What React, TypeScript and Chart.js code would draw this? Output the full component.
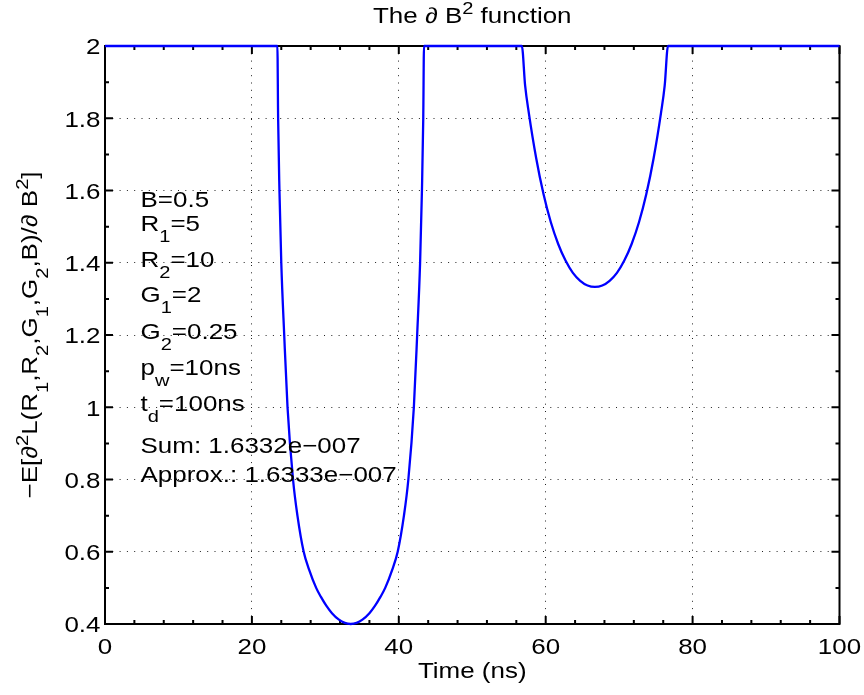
import React, { useEffect, useRef } from "react";
import { Chart, registerables } from "chart.js";

Chart.register(...registerables);

// ---- data ----
const timeNs = [
  0,
  23.47, 23.57, 23.75, 24.0, 24.4, 24.85, 25.6, 26.2, 27.05, 27.8, 28.75, 29.4, 30.15, 30.9, 31.85, 32.65, 33.45,
  34.25, 35.05, 36.0, 36.75, 37.5, 38.15, 39.1, 39.85, 40.7, 41.3, 42.05, 42.5, 42.9, 43.15, 43.33, 43.43,
  56.75, 57.2, 57.7, 58.7, 59.7, 60.7, 61.7, 62.7, 63.7, 64.7, 65.7, 66.7,
  67.7, 68.7, 69.7, 70.7, 71.7, 72.7, 73.7, 74.7, 75.7, 76.2, 76.65,
  100,
];
const fisherInfo = [
  2,
  2, 1.8, 1.6, 1.4, 1.2, 1.0, 0.8, 0.7, 0.6, 0.55, 0.5, 0.475, 0.45, 0.43, 0.412, 0.403, 0.4,
  0.403, 0.412, 0.43, 0.45, 0.475, 0.5, 0.55, 0.6, 0.7, 0.8, 1.0, 1.2, 1.4, 1.6, 1.8, 2,
  2, 1.89, 1.815, 1.69, 1.59, 1.512, 1.452, 1.406, 1.372, 1.35, 1.337, 1.333,
  1.337, 1.35, 1.372, 1.406, 1.452, 1.512, 1.59, 1.69, 1.815, 1.89, 2,
  2,
];
const xMin = 0;
const xMax = 100;
const xStep = 20;
const xMinorStep = 4;
const yMin = 0.4;
const yMax = 2;
const yStep = 0.2;
const yMinorStep = 0.1;

type Seg = { t: string; k?: "sub" | "sup" };

const titleSegs: Seg[] = [{ t: "The \u2202 B" }, { t: "2", k: "sup" }, { t: " function" }];
const xLabelSegs: Seg[] = [{ t: "Time (ns)" }];
const yLabelSegs: Seg[] = [
  { t: "\u2212E[\u2202" }, { t: "2", k: "sup" }, { t: "L(R" }, { t: "1", k: "sub" }, { t: ",R" }, { t: "2", k: "sub" },
  { t: ",G" }, { t: "1", k: "sub" }, { t: ",G" }, { t: "2", k: "sub" }, { t: ",B)/\u2202 B" }, { t: "2", k: "sup" }, { t: "]" },
];
const annotationLines: Seg[][] = [
  [{ t: "B=0.5" }],
  [{ t: "R" }, { t: "1", k: "sub" }, { t: "=5" }],
  [{ t: "R" }, { t: "2", k: "sub" }, { t: "=10" }],
  [{ t: "G" }, { t: "1", k: "sub" }, { t: "=2" }],
  [{ t: "G" }, { t: "2", k: "sub" }, { t: "=0.25" }],
  [{ t: "p" }, { t: "w", k: "sub" }, { t: "=10ns" }],
  [{ t: "t" }, { t: "d", k: "sub" }, { t: "=100ns" }],
  [{ t: "Sum: 1.6332e\u2212007" }],
  [{ t: "Approx.: 1.6333e\u2212007" }],
];
const annotationBaselines = [206.7, 230.7, 266.7, 302.3, 339, 375, 411, 452.7, 482.3];

// ---- styling ----
const FONT = '"Liberation Sans", Arial, Helvetica, sans-serif';
const SX = 1.18; // horizontal glyph stretch of the original font
const BASE = 22;
const SMALL = 17;

function fontFor(seg: Seg) {
  return `${seg.k ? SMALL : BASE}px ${FONT}`;
}

function drawRich(ctx: CanvasRenderingContext2D, segs: Seg[], x: number, y: number, align: "left" | "center" | "right") {
  ctx.save();
  ctx.translate(x, y);
  ctx.scale(SX, 1);
  ctx.textBaseline = "alphabetic";
  ctx.textAlign = "left";
  let w = 0;
  for (const s of segs) {
    ctx.font = fontFor(s);
    w += ctx.measureText(s.t).width;
  }
  let cx = align === "left" ? 0 : align === "center" ? -w / 2 : -w;
  for (const s of segs) {
    ctx.font = fontFor(s);
    const dy = s.k === "sub" ? 11 : s.k === "sup" ? -9 : 0;
    ctx.fillText(s.t, cx, dy);
    cx += ctx.measureText(s.t).width;
  }
  ctx.restore();
}

function fmt(v: number) {
  return String(Number(v.toFixed(4)));
}

const matlabAxes = {
  id: "matlabAxes",
  beforeDatasetsDraw(chart: any) {
    const { ctx, chartArea: a, scales } = chart;
    const xs = scales.x;
    const ys = scales.y;
    ctx.save();
    ctx.strokeStyle = "#000";
    ctx.lineWidth = 2;
    ctx.lineCap = "butt";
    ctx.beginPath();
    const nx = Math.round((xMax - xMin) / xMinorStep);
    for (let i = 0; i <= nx; i++) {
      const v = xMin + i * xMinorStep;
      const major = Math.abs(v / xStep - Math.round(v / xStep)) < 1e-6;
      const len = major ? 8 : 4;
      const px = xs.getPixelForValue(v);
      ctx.moveTo(px, a.bottom);
      ctx.lineTo(px, a.bottom - len);
      ctx.moveTo(px, a.top);
      ctx.lineTo(px, a.top + len);
    }
    const ny = Math.round((yMax - yMin) / yMinorStep);
    const per = Math.round(yStep / yMinorStep);
    for (let i = 0; i <= ny; i++) {
      const v = yMin + i * yMinorStep;
      const len = i % per === 0 ? 8 : 4;
      const py = ys.getPixelForValue(v);
      ctx.moveTo(a.left, py);
      ctx.lineTo(a.left + len, py);
      ctx.moveTo(a.right, py);
      ctx.lineTo(a.right - len, py);
    }
    ctx.stroke();
    ctx.strokeRect(a.left, a.top, a.right - a.left, a.bottom - a.top);
    ctx.restore();

    // tick labels from the library's generated ticks
    ctx.save();
    ctx.fillStyle = "#000";
    for (const t of xs.ticks) {
      const px = xs.getPixelForValue(t.value);
      drawRich(ctx, [{ t: fmt(t.value) }], px, 653.5, "center");
    }
    for (const t of ys.ticks) {
      const py = ys.getPixelForValue(t.value);
      drawRich(ctx, [{ t: fmt(t.value) }], a.left - 4.5, py + 8.3, "right");
    }
    ctx.restore();
  },
  afterDatasetsDraw(chart: any) {
    const { ctx, chartArea: a } = chart;
    ctx.save();
    ctx.fillStyle = "#000";
    const cx = (a.left + a.right) / 2;
    drawRich(ctx, titleSegs, cx, 22.5, "center");
    drawRich(ctx, xLabelSegs, cx, 678, "center");
    annotationLines.forEach((segs, i) => drawRich(ctx, segs, 140.5, annotationBaselines[i], "left"));
    ctx.save();
    ctx.translate(37, (a.top + a.bottom) / 2);
    ctx.rotate(-Math.PI / 2);
    drawRich(ctx, yLabelSegs, 0, 0, "center");
    ctx.restore();
    ctx.restore();
  },
};

export default function App() {
  const ref = useRef<HTMLCanvasElement | null>(null);
  useEffect(() => {
    if (!ref.current) return;
    const points = timeNs.map((x, i) => ({ x, y: fisherInfo[i] }));
    const chart = new Chart(ref.current, {
      type: "line",
      data: {
        datasets: [
          {
            data: points,
            borderColor: "#0000ff",
            borderWidth: 2.3,
            pointRadius: 0,
            fill: false,
            cubicInterpolationMode: "monotone",
            borderJoinStyle: "round",
            clip: false,
          } as any,
        ],
      },
      options: {
        animation: false,
        responsive: false,
        devicePixelRatio: 1,
        parsing: false,
        layout: { padding: { left: 0, right: 24.5, top: 46, bottom: 0 } },
        plugins: { legend: { display: false }, title: { display: false }, tooltip: { enabled: false } },
        scales: {
          x: {
            type: "linear",
            min: xMin,
            max: xMax,
            ticks: { stepSize: xStep, display: false },
            grid: { color: "#222", lineWidth: 1, drawTicks: false },
            border: { display: false, dash: [1, 6.3] },
            afterFit: (s: any) => {
              s.height = 71;
            },
          },
          y: {
            type: "linear",
            min: yMin,
            max: yMax,
            ticks: { stepSize: yStep, display: false },
            grid: { color: "#222", lineWidth: 1, drawTicks: false },
            border: { display: false, dash: [1, 6.3] },
            afterFit: (s: any) => {
              s.width = 105;
            },
          },
        },
      } as any,
      plugins: [matlabAxes],
    });
    return () => chart.destroy();
  }, []);
  return (
    <div style={{ position: "absolute", left: 0, top: 0, width: 864, height: 695, background: "#fff" }}>
      <canvas ref={ref} width={864} height={695} style={{ display: "block" }} />
    </div>
  );
}
